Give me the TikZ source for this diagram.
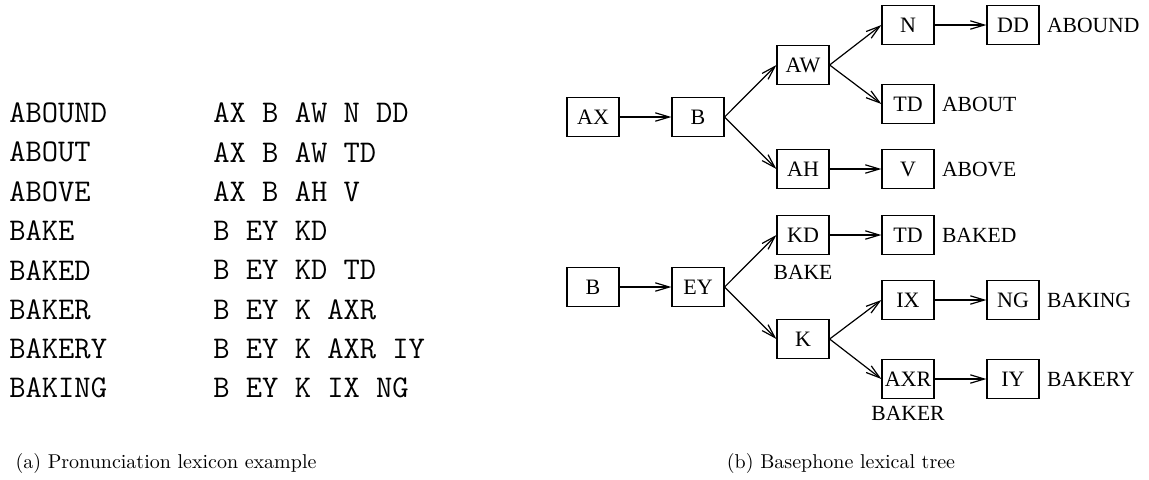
\documentclass[tikz,border=0pt]{standalone}
\usepackage{fontspec}
\newfontfamily\treefont{Liberation Serif}
\usetikzlibrary{calc}
\usetikzlibrary{arrows.meta}

\tikzset{
	phone/.style={draw,line width=0.6pt,minimum width=26pt,minimum height=19.5pt,inner sep=0pt,
		font=\treefont\fontsize{11}{13}\selectfont},
	word/.style={inner sep=0pt,font=\treefont\fontsize{10.8}{13}\selectfont},
	lex/.style={anchor=west,inner sep=0pt,font=\fontsize{15.8}{18}\ttfamily},
	link/.style={line width=0.6pt,-{Straight Barb[length=7pt,width=4.2pt]}},
	caption/.style={font=\fontsize{10}{12}\selectfont},
}

\begin{document}
\begin{tikzpicture}[x=0.5pt,y=-0.5pt]
				\useasboundingbox (0,0) rectangle (1149,479);
				
				% word list with its phone strings
				\foreach \w/\p [count=\i from 0] in {ABOUND/AX B AW N DD,ABOUT/AX B AW TD,ABOVE/AX B AH V,
					BAKE/B EY KD,BAKED/B EY KD TD,BAKER/B EY K AXR,BAKERY/B EY K AXR IY,BAKING/B EY K IX NG}{
					\node[lex] (w\i) at (9,{113+39.3*\i}) {\w};
					\node[lex] (p\i) at (213,{113+39.3*\i}) {\p};
				}
				
				% first tree
				\node[phone] (AX) at (593,117) {AX};
				\node[phone] (B) at (698,117) {B};
				\node[phone] (AW) at (803,65) {AW};
				\node[phone] (AH) at (803,169) {AH};
				\node[phone] (N) at (908,25) {N};
				\node[phone] (TD) at (908,104) {TD};
				\node[phone] (V) at (908,169) {V};
				\node[phone] (DD) at (1013,25) {DD};
				
				\node[word,anchor=west] (ABOUND) at ($(DD.east)+(7,0)$) {ABOUND};
				\node[word,anchor=west] (ABOUT) at ($(TD.east)+(7,0)$) {ABOUT};
				\node[word,anchor=west] (ABOVE) at ($(V.east)+(7,0)$) {ABOVE};
				
				\draw[link] (AX)--(B);
				\draw[link] (B.east)--(AW.west);
				\draw[link] (B.east)--(AH.west);
				\draw[link] (AW.east)--(N.west);
				\draw[link] (AW.east)--(TD.west);
				\draw[link] (AH)--(V);
				\draw[link] (N)--(DD);
				
				% second tree
				\node[phone] (Bb) at (593,287) {B};
				\node[phone] (EY) at (698,287) {EY};
				\node[phone] (KD) at (803,235) {KD};
				\node[phone] (K) at (803,339) {K};
				\node[phone] (TDb) at (908,235) {TD};
				\node[phone] (IX) at (908,300) {IX};
				\node[phone] (AXR) at (908,379) {AXR};
				\node[phone] (NG) at (1013,300) {NG};
				\node[phone] (IY) at (1013,379) {IY};
				
				\node[word] (BAKE) at (803,272) {BAKE};
				\node[word] (BAKER) at (908,413) {BAKER};
				\node[word,anchor=west] (BAKED) at ($(TDb.east)+(7,0)$) {BAKED};
				\node[word,anchor=west] (BAKING) at ($(NG.east)+(7,0)$) {BAKING};
				\node[word,anchor=west] (BAKERY) at ($(IY.east)+(7,0)$) {BAKERY};
				
				\draw[link] (Bb)--(EY);
				\draw[link] (EY.east)--(KD.west);
				\draw[link] (EY.east)--(K.west);
				\draw[link] (KD)--(TDb);
				\draw[link] (K.east)--(IX.west);
				\draw[link] (K.east)--(AXR.west);
				\draw[link] (IX)--(NG);
				\draw[link] (AXR)--(IY);
				
				% captions
				\node[caption] (capA) at (166,463) {(a) Pronunciation lexicon example};
				\node[caption] (capB) at (841,463) {(b) Basephone lexical tree};
			\end{tikzpicture}
\end{document}
